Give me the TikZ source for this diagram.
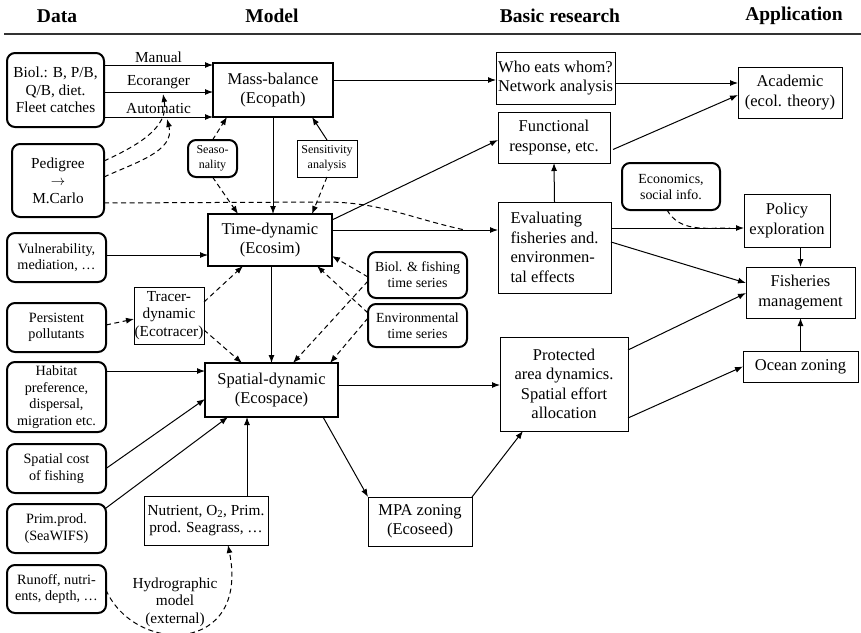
\documentclass[tikz,border=0pt]{standalone}
\usepackage{fontspec}
\setmainfont{Liberation Serif}
\usetikzlibrary{arrows.meta}
\newcommand\fntA{\fontsize{16.5}{19.5}\selectfont}
\newcommand\fntB{\fontsize{15.3}{17.5}\selectfont}
\newcommand\fntC{\fontsize{14.2}{16.5}\selectfont}
\newcommand\fntD{\fontsize{13.9}{16}\selectfont}
\newcommand\fntE{\fontsize{12}{14.5}\selectfont}
\newcommand\fntH{\fontsize{19.5}{22}\selectfont\bfseries}
\begin{document}
\begin{tikzpicture}[x=1pt,y=-1pt,
 every node/.style={inner sep=0pt, outer sep=0pt, align=center},
 wh/.style 2 args={minimum width=#1pt, minimum height=#2pt},
 bx/.style={draw, line width=1pt},
 tbx/.style={draw, line width=2pt},
 rbx/.style={draw, line width=2pt, rounded corners=8pt},
 arr/.style={-{Latex[length=8pt,width=6pt]}, line width=1pt},
 darr/.style={arr, dash pattern=on 5pt off 3.5pt},
 dln/.style={line width=1pt, dash pattern=on 5pt off 3.5pt},
 hdr/.style={font=\fntH}]
\useasboundingbox (0,0) rectangle (861,632);

% headers
\node[hdr] (hData) at (57,16) {Data};
\node[hdr] (hModel) at (272,16) {Model};
\node[hdr] (hBasic) at (560,16) {Basic research};
\node[hdr] (hApp) at (794,16) {Application};
\draw[line width=1.3pt, black!80] (4,34) -- (861,34);

% data column
\node[rbx, wh={97}{74}, font=\fntB] (biol) at (55.5,90) {Biol.: B, P/B,\\Q/B, diet.\\Fleet catches};
\node[rbx, wh={92}{73}, font=\fntB] (ped) at (58,180.5) {Pedigree\\$\rightarrow$\\M.Carlo};
\node[rbx, wh={99}{49}, font=\fntC] (vul) at (56.5,257.5) {Vulnerability,\\mediation, …};
\node[rbx, wh={99}{49}, font=\fntC] (pers) at (56.5,327.5) {Persistent\\pollutants};
\node[rbx, wh={99}{70}, font=\fntC] (hab) at (56.5,397) {Habitat\\preference,\\dispersal,\\migration etc.};
\node[rbx, wh={99}{49}, font=\fntC] (scost) at (56.5,468.5) {Spatial cost\\of fishing};
\node[rbx, wh={99}{49}, font=\fntC] (prim) at (56.5,528.5) {Prim.prod.\\(SeaWIFS)};
\node[rbx, wh={99}{48}, font=\fntC] (run) at (56.5,589) {Runoff, nutri-\\ents, depth, …};

% model column
\node[tbx, wh={120}{54}, font=\fntA] (mass) at (273,90) {Mass-balance\\(Ecopath)};
\node[rbx, wh={49}{37}, font=\fntE] (seas) at (212.5,158.5) {Seaso-\\nality};
\node[bx, wh={60}{37}, font=\fntE] (sens) at (327,158.5) {Sensitivity\\analysis};
\node[tbx, wh={124}{52}, font=\fntA] (ecosim) at (270,240) {Time-dynamic\\(Ecosim)};
\node[bx, wh={70}{57}, font=\fntB] (tracer) at (169,315.5) {Tracer-\\dynamic\\(Ecotracer)};
\node[rbx, wh={99}{46}, font=\fntD] (bfts) at (417.5,275) {Biol. \& fishing\\time series};
\node[rbx, wh={99}{43}, font=\fntD] (envts) at (417.5,325.5) {Environmental\\time series};
\node[tbx, wh={133}{54}, font=\fntA] (ecospace) at (271.5,390) {Spatial-dynamic\\(Ecospace)};
\node[bx, wh={124}{49}, font=\fntB] (nut) at (206,520.5) {Nutrient, O\textsubscript{2}, Prim.\\prod. Seagrass, …};
\node[font=\fntB] (hydro) at (175,602) {Hydrographic\\model\\(external)};
\node[bx, wh={104}{49}, font=\fntA] (mpa) at (420,521.5) {MPA zoning\\(Ecoseed)};

% basic research column
\node[bx, wh={119}{52}, font=\fntA] (who) at (555.5,78) {Who eats whom?\\Network analysis};
\node[bx, wh={112}{51}, font=\fntA] (func) at (554,137.5) {Functional\\response, etc.};
\node[bx, wh={113}{91}, font=\fntA, align=left] (eval) at (554.5,247.5) {Evaluating\\fisheries and.\\environmen-\\tal effects};
\node[bx, wh={128}{94}, font=\fntA] (prot) at (564,384) {Protected\\area dynamics.\\Spatial effort\\allocation};
\node[rbx, wh={98}{47}, font=\fntD] (econ) at (671,186.5) {Economics,\\social info.};

% application column
\node[bx, wh={104}{51}, font=\fntA] (acad) at (790,92.5) {Academic\\(ecol. theory)};
\node[bx, wh={86}{53}, font=\fntA] (policy) at (787,220.5) {Policy\\exploration};
\node[bx, wh={109}{51}, font=\fntA] (fish) at (800.5,292.5) {Fisheries\\management};
\node[bx, wh={115}{31}, font=\fntA] (ocean) at (800.5,366.5) {Ocean zoning};

% data -> mass-balance
\draw[arr] ([yshift=25pt]biol.east) -- ([yshift=25pt]biol.east -| mass.west)
  node[midway, above=2pt, font=\fntB] {Manual};
\draw[arr] ([yshift=-2pt]biol.east) -- ([yshift=-2pt]biol.east -| mass.west)
  node[midway, above=3pt, font=\fntB] {Ecoranger};
\draw[arr] ([yshift=-27pt]biol.east) -- (mass.south west)
  node[midway, above=3pt, font=\fntB] {Automatic};

% pedigree
\coordinate (ecoT) at (163,94);
\coordinate (autoT) at (167,119);
\draw[darr] ([yshift=19.5pt]ped.east) to[out=25,in=-80] (ecoT);
\draw[darr] ([yshift=3.5pt]ped.east) to[out=25,in=-75] (autoT);
\coordinate (mcA) at (325,202);
\coordinate (mcB) at (465,230);
\draw[dln] ([yshift=-22.5pt]ped.east) -- (mcA) to[out=0,in=168] (mcB);

% seasonality / sensitivity
\draw[darr] (seas.north) -- ([xshift=14pt]mass.south west);
\draw[darr] (seas.south) -- ([xshift=30pt]ecosim.north west);
\draw[arr] (sens.north) -- ([xshift=-21pt]mass.south east);
\draw[darr] (sens.south) -- ([xshift=-20pt]ecosim.north east);

% model chain
\draw[arr] (mass.south) -- (mass.south |- ecosim.north);
\draw[arr] (ecospace.north |- ecosim.south) -- (ecospace.north);

% inputs to ecosim / ecospace
\draw[arr] ([yshift=2.5pt]vul.east) -- ([yshift=2.5pt]vul.east -| ecosim.west);
\draw[darr] ([yshift=2.5pt]pers.east) -- ([yshift=-3.5pt]tracer.west);
\draw[darr] ([yshift=13.5pt]tracer.east) -- ([xshift=35pt]ecosim.south west);
\draw[darr] ([yshift=-14.5pt]tracer.east) -- ([xshift=37pt]ecospace.north west);
\draw[arr] ([yshift=26pt]hab.east) -- ([yshift=26pt]hab.east -| ecospace.west);
\draw[arr] (scost.east) -- ([yshift=-9pt]ecospace.west);
\draw[arr] ([yshift=20.5pt]prim.east) -- ([xshift=23pt]ecospace.south west);
\draw[arr] ([xshift=41pt]nut.north) -- ([xshift=41pt]nut.north |- ecospace.south);
\draw[darr] ([yshift=-1pt]run.east) .. controls (135,655) and (250,655) .. ([xshift=84pt]nut.south west);

% time series
\draw[darr] ([yshift=-2pt]bfts.west) -- ([yshift=-16pt]ecosim.east);
\draw[darr] ([yshift=-6pt]bfts.west) -- ([xshift=88pt]ecospace.north west);
\draw[darr] ([yshift=12.5pt]envts.west) -- ([xshift=-15pt]ecosim.south east);
\draw[darr] ([yshift=7.5pt]envts.west) -- ([xshift=-8pt]ecospace.north east);

% to basic research
\draw[arr] ([yshift=10pt]mass.east) -- ([yshift=10pt]mass.east -| who.west);
\draw[arr] ([yshift=-6pt]ecosim.north east) -- ([yshift=-2.5pt]func.west);
\draw[arr] ([yshift=10pt]ecosim.east) -- ([yshift=10pt]ecosim.east -| eval.west);
\draw[arr] (eval.north) -- (func.south);
\draw[arr] ([yshift=5pt]ecospace.east) -- ([yshift=5pt]ecospace.east -| prot.west);
\draw[arr] ([xshift=-15pt]ecospace.south east) -- (mpa.north west);
\draw[arr] (mpa.north east) -- ([xshift=23pt]prot.south west);

% to application
\draw[arr] ([yshift=-5pt]who.east) -- ([yshift=-5pt]who.east -| acad.west);
\draw[arr] ([xshift=3pt,yshift=-12pt]func.east) -- ([yshift=-2.5pt]acad.west);
\draw[arr] ([yshift=19.5pt]eval.east) -- ([yshift=19.5pt]eval.east -| policy.west);
\draw[arr] ([yshift=5.5pt]eval.east) -- ([yshift=9.5pt]fish.west);
\coordinate (ecB) at (730,228);
\draw[dln] ([xshift=-4pt]econ.south) to[out=-60,in=180] (ecB);
\draw[arr] (policy.south -| fish.north) -- (fish.north);
\draw[arr] (ocean.north) -- (fish.south);
\draw[arr] ([yshift=-13pt]prot.north east) -- ([yshift=-0.5pt]fish.west);
\draw[arr] ([yshift=13pt]prot.south east) -- (ocean.west);
\end{tikzpicture}
\end{document}
